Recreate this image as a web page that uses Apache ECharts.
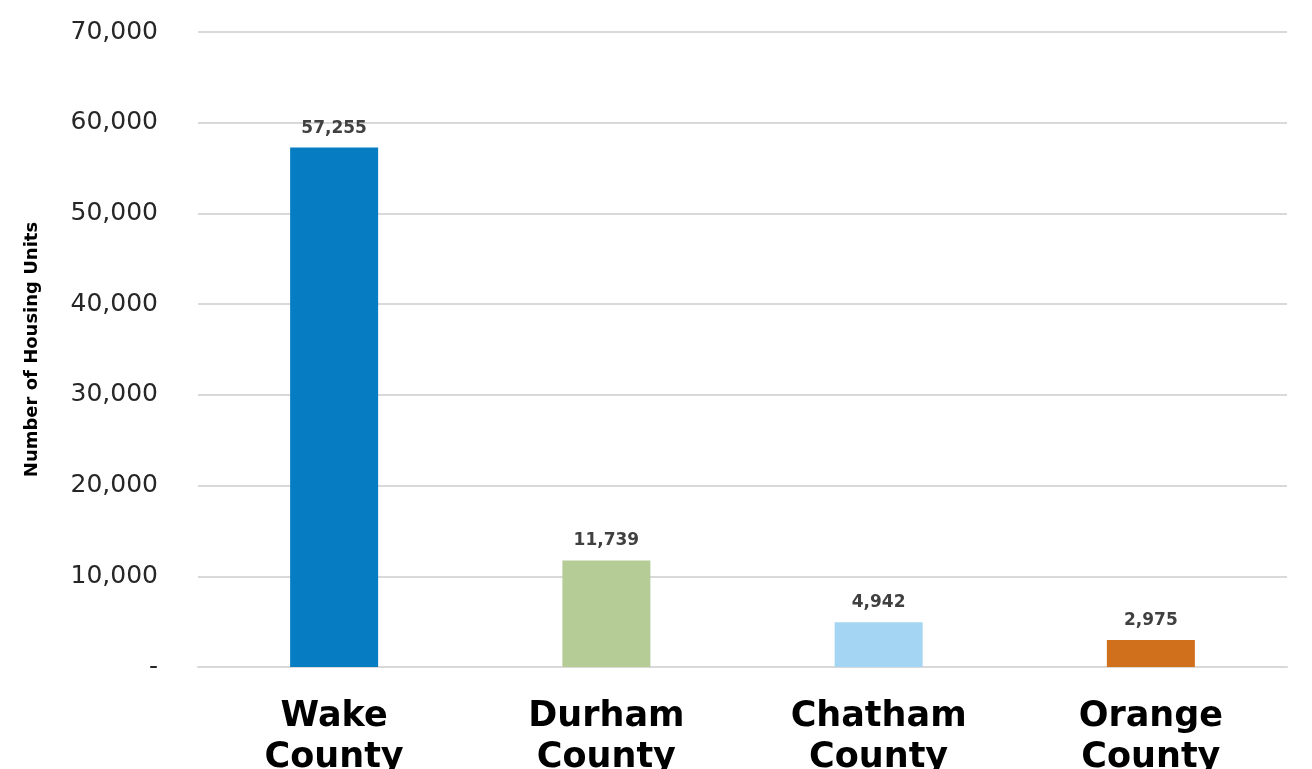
<!DOCTYPE html>
<html>
<head>
<meta charset="utf-8">
<script src="https://cdn.jsdelivr.net/npm/echarts@6/dist/echarts.min.js"></script>
<style>
  html, body { margin: 0; padding: 0; background: #fff; }
  #chart { width: 1312px; height: 769px; }
</style>
</head>
<body>
<div id="chart"></div>
<script>
const counties = ['Wake\nCounty', 'Durham\nCounty', 'Chatham\nCounty', 'Orange\nCounty'];
const housingUnits = [57255, 11739, 4942, 2975];
const barColors = ['#067cc2', '#b5cc97', '#a4d5f2', '#d0701d'];

const fmt = v => v === 0 ? '-' : v.toLocaleString('en-US');

const chart = echarts.init(document.getElementById('chart'));

const option = {
  animation: false,
  grid: {
    left: 198,
    right: 25,
    top: 32,
    bottom: 102,
    containLabel: false,
    outerBoundsMode: 'none'
  },
  xAxis: {
    type: 'category',
    data: counties,
    axisTick: { show: false },
    axisLine: { lineStyle: { color: '#d9d9d9', width: 2 } },
    axisLabel: {
      color: '#000',
      fontFamily: 'DejaVu Sans',
      fontWeight: 'bold',
      fontSize: 35,
      lineHeight: 41,
      margin: 29
    }
  },
  yAxis: {
    type: 'value',
    min: 0,
    max: 70000,
    interval: 10000,
    name: 'Number of Housing Units',
    nameLocation: 'middle',
    nameGap: 157,
    nameTextStyle: {
      color: '#000',
      fontFamily: 'DejaVu Sans',
      fontWeight: 'bold',
      fontSize: 18
    },
    axisLine: { show: false },
    axisTick: { show: false },
    splitLine: { lineStyle: { color: '#d9d9d9', width: 2 } },
    axisLabel: {
      margin: 40,
      color: '#262626',
      fontFamily: 'DejaVu Sans',
      fontWeight: 'normal',
      fontSize: 25,
      formatter: fmt
    }
  },
  series: [{
    type: 'bar',
    barWidth: 88,
    data: housingUnits.map((v, i) => ({ value: v, itemStyle: { color: barColors[i] } })),
    label: {
      show: true,
      position: 'top',
      distance: 11,
      color: '#404040',
      fontFamily: 'DejaVu Sans',
      fontWeight: 'bold',
      fontSize: 17,
      formatter: p => fmt(p.value)
    }
  }]
};

chart.setOption(option);
</script>
</body>
</html>
